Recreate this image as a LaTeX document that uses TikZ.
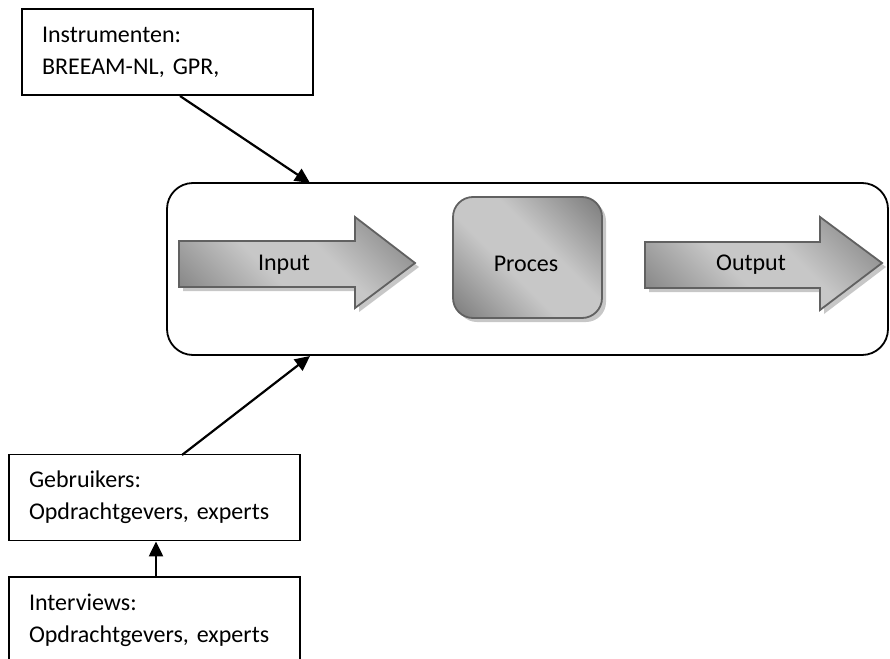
\documentclass[tikz,border=0pt]{standalone}
\usepackage{fontspec}
\setmainfont{Carlito}
\usetikzlibrary{arrows.meta,calc}
\pgfdeclarehorizontalshading{chrome}{100bp}{color(0bp)=(black!68); color(42bp)=(black!22); color(58bp)=(black!22); color(100bp)=(black!68)}
\tikzset{
  infobox/.style={draw=black, line width=1.8pt, fill=white, minimum width=291pt, minimum height=86pt,
    text width=251pt, inner sep=0pt, align=left, font=\fontsize{24}{32}\selectfont},
  flowline/.style={line width=2.2pt, -{Triangle[length=15pt,width=14pt]}},
  metal/.style={shading=chrome, shading angle=45, draw=black!62, line width=1.8pt},
  shadowfill/.style={fill=black!22, draw=none},
  bigtext/.style={font=\fontsize{24}{28}\selectfont, anchor=base, inner sep=0pt}
}
\begin{document}
\begin{tikzpicture}[x=1pt, y=-1pt]
\useasboundingbox (0,0) rectangle (890,658);
\clip (0,0) rectangle (890,658);

% outer frame around the process
\draw[line width=1.8pt, rounded corners=26pt] (167,183) rectangle (888,355);

% input arrow with its shadow
\fill[shadowfill] (183,245) -- (359,245) -- (359,221) -- (419,267) -- (359,312) -- (359,291) -- (183,291) -- cycle;
\path[metal] (179,241) -- (355,241) -- (355,217) -- (415,263) -- (355,308) -- (355,287) -- (179,287) -- cycle;
\node[bigtext] (input) at (284,270) {Input};

% process block with its shadow
\fill[shadowfill, rounded corners=20pt] (457,201) rectangle (606,322);
\path[metal, rounded corners=20pt] (453,197) rectangle (602,318);
\node[bigtext] (proces) at (526,271) {Proces};

% output arrow with its shadow
\fill[shadowfill] (649,246) -- (824,246) -- (824,221) -- (886,267) -- (824,314) -- (824,292) -- (649,292) -- cycle;
\path[metal] (645,242) -- (820,242) -- (820,217) -- (882,263) -- (820,310) -- (820,288) -- (645,288) -- cycle;
\node[bigtext] (output) at (751,270) {Output};

% source boxes
\node[infobox] (instr) at (167.5,52) {Instrumenten:\\BREEAM-NL, GPR,};
\node[infobox] (gebr) at (154.5,497.5) {Gebruikers:\\Opdrachtgevers, experts};
\node[infobox] (interv) at (154.5,620) {Interviews:\\Opdrachtgevers, experts};

% connectors
\coordinate (instrOut) at (180,96);
\coordinate (frameTopIn) at (310,183);
\coordinate (gebrOut) at (182,455);
\coordinate (frameBotIn) at (310,356);
\draw[flowline] (instrOut) -- (frameTopIn);
\draw[flowline] (gebrOut) -- (frameBotIn);
\draw[flowline] (interv.north -| 156,0) -- (gebr.south -| 156,0);
\end{tikzpicture}
\end{document}
